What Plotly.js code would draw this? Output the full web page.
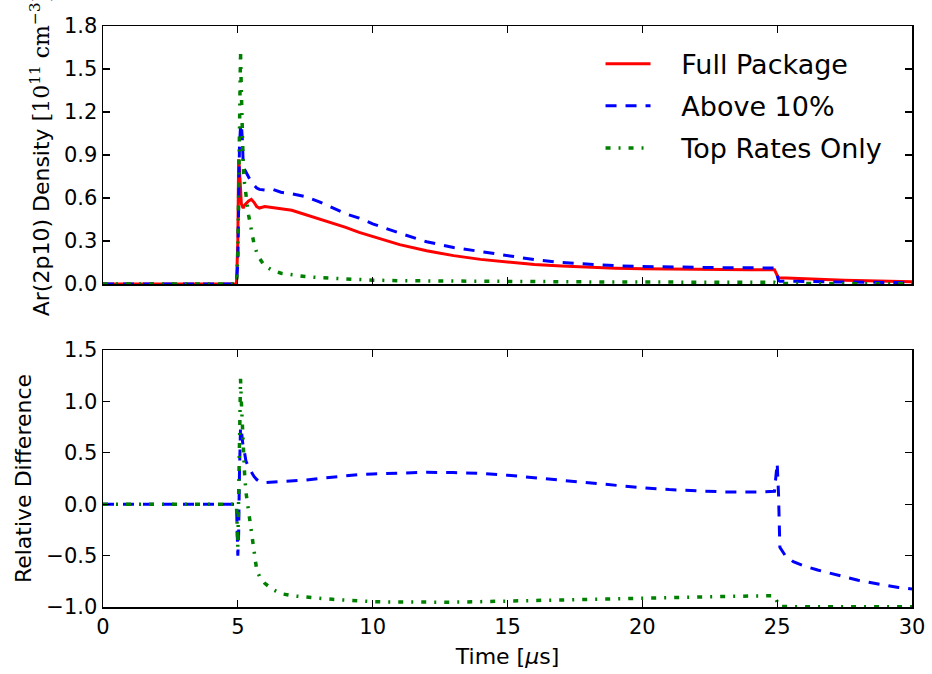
<!DOCTYPE html>
<html>
<head>
<meta charset="utf-8">
<script src="https://cdn.plot.ly/plotly-3.0.1.min.js"></script>
<style>html,body{margin:0;padding:0;background:#fff;}#chart{width:932px;height:674px;}</style>
</head>
<body>
<div id="chart"></div>
<script>
// Time in microseconds
const time = [0, 2, 4, 4.95, 5.0, 5.03, 5.06, 5.1, 5.13, 5.17, 5.2, 5.25, 5.3, 5.4, 5.5, 5.6, 5.7, 5.8, 6.0, 6.3, 6.6, 7.0, 7.5, 8.0, 8.5, 9, 9.5, 10, 11, 12, 13, 14, 15, 16, 17, 18, 19, 20, 21, 22, 23, 24, 24.9, 25.0, 25.05, 25.1, 25.3, 25.6, 26, 26.5, 27, 27.5, 28, 28.5, 29, 29.5, 30];

// Ar(2p10) density [1e11 cm^-3]
const densFull = [0, 0, 0, 0, 0.3, 0.87, 0.8, 0.62, 0.56, 0.54, 0.53, 0.55, 0.56, 0.58, 0.59, 0.57, 0.54, 0.53, 0.54, 0.535, 0.525, 0.515, 0.485, 0.46, 0.43, 0.395, 0.36, 0.33, 0.275, 0.232, 0.198, 0.172, 0.152, 0.136, 0.125, 0.116, 0.11, 0.106, 0.103, 0.102, 0.101, 0.1, 0.1, 0.06, 0.045, 0.044, 0.042, 0.04, 0.037, 0.033, 0.03, 0.027, 0.024, 0.021, 0.019, 0.017, 0.015];
const densAbove10 = [0, 0, 0, 0, 0.15, 0.6, 0.95, 1.1, 1.12, 1.0, 0.83, 0.8, 0.78, 0.74, 0.71, 0.69, 0.67, 0.66, 0.655, 0.66, 0.64, 0.63, 0.61, 0.575, 0.53, 0.49, 0.46, 0.42, 0.355, 0.295, 0.255, 0.225, 0.195, 0.17, 0.15, 0.137, 0.128, 0.122, 0.118, 0.115, 0.114, 0.113, 0.112, 0.06, 0.025, 0.02, 0.019, 0.018, 0.017, 0.016, 0.015, 0.014, 0.013, 0.012, 0.011, 0.01, 0.009];
const densTopRates = [0, 0, 0, 0, 0.2, 0.7, 1.3, 1.62, 1.35, 0.95, 0.82, 0.7, 0.62, 0.48, 0.38, 0.28, 0.22, 0.18, 0.125, 0.095, 0.075, 0.062, 0.052, 0.045, 0.04, 0.035, 0.03, 0.027, 0.023, 0.021, 0.019, 0.018, 0.017, 0.016, 0.015, 0.015, 0.014, 0.014, 0.013, 0.013, 0.013, 0.012, 0.012, 0.006, 0.004, 0.003, 0.003, 0.003, 0.003, 0.002, 0.002, 0.002, 0.002, 0.002, 0.002, 0.002, 0.002];

// Relative difference vs. full package
const relAbove10 = [0, 0, 0, 0, -0.5, -0.3, 0.3, 0.75, 0.72, 0.6, 0.55, 0.5, 0.42, 0.36, 0.31, 0.27, 0.24, 0.22, 0.21, 0.215, 0.22, 0.225, 0.235, 0.25, 0.265, 0.278, 0.288, 0.295, 0.305, 0.31, 0.308, 0.3, 0.282, 0.258, 0.23, 0.205, 0.182, 0.16, 0.142, 0.128, 0.12, 0.118, 0.125, 0.4, 0.1, -0.42, -0.5, -0.56, -0.6, -0.64, -0.675, -0.71, -0.74, -0.765, -0.79, -0.81, -0.825];
const relTopRates = [0, 0, 0, 0, -0.42, 0.2, 0.9, 1.22, 1.0, 0.7, 0.55, 0.3, 0.12, -0.08, -0.3, -0.5, -0.64, -0.7, -0.77, -0.83, -0.87, -0.89, -0.905, -0.915, -0.925, -0.935, -0.942, -0.948, -0.952, -0.954, -0.953, -0.948, -0.942, -0.935, -0.93, -0.925, -0.915, -0.908, -0.903, -0.9, -0.898, -0.893, -0.89, -0.95, -0.99, -0.995, -0.997, -0.997, -0.998, -0.998, -0.998, -0.998, -0.998, -0.998, -0.998, -0.998, -0.998];

const seriesNames = ['Full Package', 'Above 10%', 'Top Rates Only'];
const xTicks = [0, 5, 10, 15, 20, 25, 30];
const topTicks = [0.0, 0.3, 0.6, 0.9, 1.2, 1.5, 1.8];
const bottomTicks = [-1.0, -0.5, 0.0, 0.5, 1.0, 1.5];

const redLine = {color: '#ff0000', width: 3, dash: 'solid'};
const blueLine = {color: '#0000ff', width: 3, dash: '11px,9px'};
const greenLine = {color: '#008000', width: 3.5, dash: '5px,8px,2px,8px'};

const pad = '\u00a0\u00a0\u00a0';
const traces = [
  {x: time, y: densFull, xaxis: 'x2', yaxis: 'y2', mode: 'lines', name: pad + seriesNames[0], legendgroup: 'a', line: redLine},
  {x: time, y: densAbove10, xaxis: 'x2', yaxis: 'y2', mode: 'lines', name: pad + seriesNames[1], legendgroup: 'b', line: blueLine},
  {x: time, y: densTopRates, xaxis: 'x2', yaxis: 'y2', mode: 'lines', name: pad + seriesNames[2], legendgroup: 'c', line: greenLine},
  {x: time, y: relAbove10, xaxis: 'x', yaxis: 'y', mode: 'lines', name: seriesNames[1], legendgroup: 'b', line: blueLine, showlegend: false},
  {x: time, y: relTopRates, xaxis: 'x', yaxis: 'y', mode: 'lines', name: seriesNames[2], legendgroup: 'c', line: greenLine, showlegend: false}
];

const font = {family: 'DejaVu Sans', color: '#000'};
const axisCommon = {
  showline: true, linecolor: '#000', linewidth: 1.5, mirror: 'ticks',
  ticks: 'inside', ticklen: 7, tickwidth: 1.3, tickcolor: '#000',
  showgrid: false, zeroline: false,
  tickfont: {family: 'DejaVu Sans', size: 21, color: '#000'}
};

const layout = {
  width: 932, height: 674,
  margin: {l: 103, r: 20, t: 26, b: 67},
  paper_bgcolor: '#fff', plot_bgcolor: '#fff',
  font: font,
  showlegend: true,
  legend: {
    x: 0.615, y: 0.9765, xanchor: 'left', yanchor: 'top',
    bgcolor: 'rgba(0,0,0,0)', borderwidth: 0,
    font: {family: 'DejaVu Sans', size: 27, color: '#000'},
    itemwidth: 45, traceorder: 'grouped', tracegroupgap: 4
  },
  xaxis: Object.assign({}, axisCommon, {
    anchor: 'y', range: [0, 30], tickvals: xTicks, ticktext: xTicks.map(String),
    title: {text: 'Time [<i>μ</i>s]', font: {family: 'DejaVu Sans', size: 22, color: '#000'}, standoff: 11}
  }),
  yaxis: Object.assign({}, axisCommon, {
    domain: [0, 0.4423], anchor: 'x', range: [-1.0, 1.5],
    tickvals: bottomTicks, ticktext: bottomTicks.map(v => v.toFixed(1).replace('-', '−')),
    title: {text: 'Relative Difference', font: {family: 'DejaVu Sans', size: 22, color: '#000'}, standoff: 8}
  }),
  xaxis2: Object.assign({}, axisCommon, {
    anchor: 'y2', range: [0, 30], tickvals: xTicks, showticklabels: false, matches: 'x'
  }),
  yaxis2: Object.assign({}, axisCommon, {
    domain: [0.5559, 1], anchor: 'x2', range: [0, 1.8],
    tickvals: topTicks, ticktext: topTicks.map(v => v.toFixed(1)),
    title: {text: 'Ar(2p10) Density <span style="font-family:\'DejaVu Serif\'">[10<sup>11</sup> cm<sup>−3</sup>]</span>', font: {family: 'DejaVu Sans', size: 22, color: '#000'}, standoff: 8}
  })
};

Plotly.newPlot('chart', traces, layout, {displayModeBar: false, staticPlot: true});
</script>
</body>
</html>
